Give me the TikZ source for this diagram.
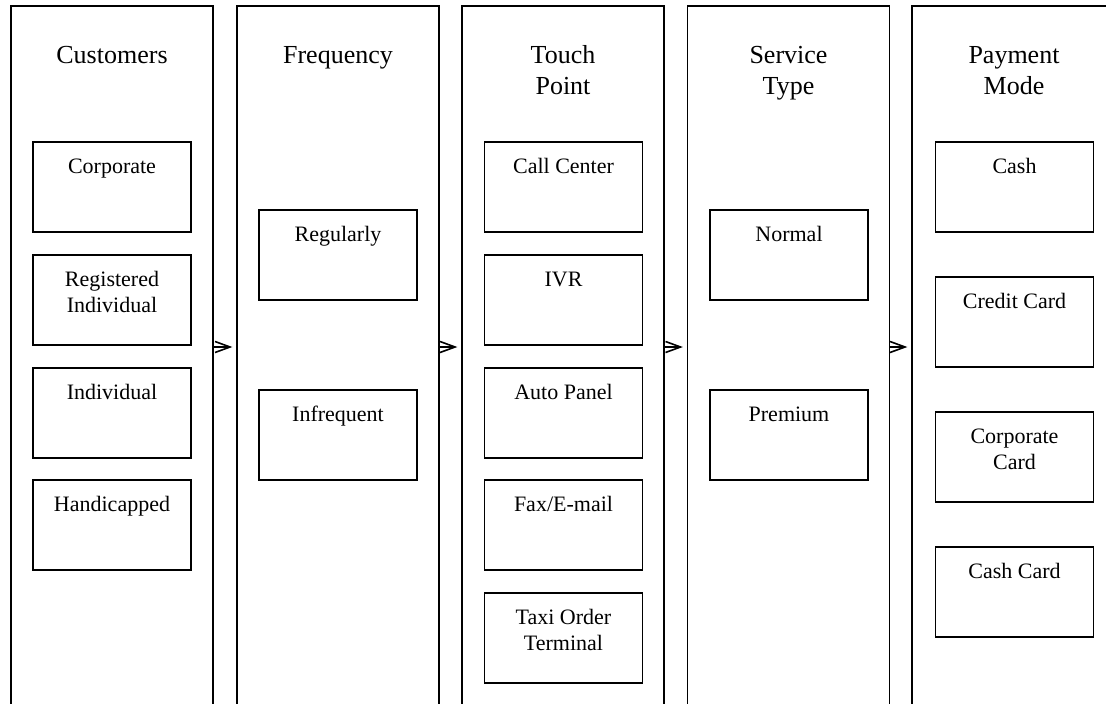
\documentclass[tikz,border=0pt]{standalone}
\usepackage{fontspec}
\setmainfont{Liberation Serif}
\usetikzlibrary{arrows.meta}
\newcommand{\boxtext}[1]{\parbox[c][90pt][t]{158pt}{\centering\fontsize{22}{26}\selectfont\rule{0pt}{31pt}#1}}
\newcommand{\titletext}[1]{\parbox[t]{200pt}{\centering\fontsize{26}{31}\selectfont #1}}
\tikzset{
  column/.style={draw, line width=1.3pt, minimum width=202pt, minimum height=754pt, inner sep=0pt},
  ibox/.style={draw, line width=1.1pt, inner sep=0pt},
  ttl/.style={anchor=base, inner sep=0pt},
  arr/.style={line width=1.2pt, -{Straight Barb[length=15pt,width=11pt,line width=1.6pt]}, shorten >=4pt}
}
\begin{document}
\begin{tikzpicture}[x=1pt,y=-1pt]
\useasboundingbox (0,0) rectangle (1106,704);
\clip (0,0) rectangle (1106,704);
\fill[white] (0,0) rectangle (1106,704);
% columns
\node[column] (c1) at (112,383) {};
\node[column] (c2) at (338,383) {};
\node[column] (c3) at (563,383) {};
\node[column] (c4) at (788.5,383) {};
\node[column] (c5) at (1013,383) {};
% titles
\node[ttl] (t1) at (112,63) {\titletext{Customers}};
\node[ttl] (t2) at (338,63) {\titletext{Frequency}};
\node[ttl] (t3) at (563,63) {\titletext{Touch\\Point}};
\node[ttl] (t4) at (788.5,63) {\titletext{Service\\Type}};
\node[ttl] (t5) at (1014,63) {\titletext{Payment\\Mode}};
% customers
\node[ibox] (a1) at (112,187) {\boxtext{Corporate}};
\node[ibox] (a2) at (112,300) {\boxtext{Registered\\Individual}};
\node[ibox] (a3) at (112,413) {\boxtext{Individual}};
\node[ibox] (a4) at (112,525) {\boxtext{Handicapped}};
% frequency
\node[ibox] (b1) at (338,255) {\boxtext{Regularly}};
\node[ibox] (b2) at (338,435) {\boxtext{Infrequent}};
% touch point
\node[ibox] (d1) at (563.5,187) {\boxtext{Call Center}};
\node[ibox] (d2) at (563.5,300) {\boxtext{IVR}};
\node[ibox] (d3) at (563.5,413) {\boxtext{Auto Panel}};
\node[ibox] (d4) at (563.5,525) {\boxtext{Fax/E-mail}};
\node[ibox] (d5) at (563.5,638) {\boxtext{Taxi Order\\Terminal}};
% service type
\node[ibox] (e1) at (789,255) {\boxtext{Normal}};
\node[ibox] (e2) at (789,435) {\boxtext{Premium}};
% payment mode
\node[ibox] (f1) at (1014.5,187) {\boxtext{Cash}};
\node[ibox] (f2) at (1014.5,322) {\boxtext{Credit Card}};
\node[ibox] (f3) at (1014.5,457) {\boxtext{Corporate\\Card}};
\node[ibox] (f4) at (1014.5,592) {\boxtext{Cash Card}};
% arrows
\draw[arr] ([yshift=36pt]c1.east) -- ([yshift=36pt]c2.west);
\draw[arr] ([yshift=36pt]c2.east) -- ([yshift=36pt]c3.west);
\draw[arr] ([yshift=36pt]c3.east) -- ([yshift=36pt]c4.west);
\draw[arr] ([yshift=36pt]c4.east) -- ([yshift=36pt]c5.west);
\end{tikzpicture}
\end{document}
